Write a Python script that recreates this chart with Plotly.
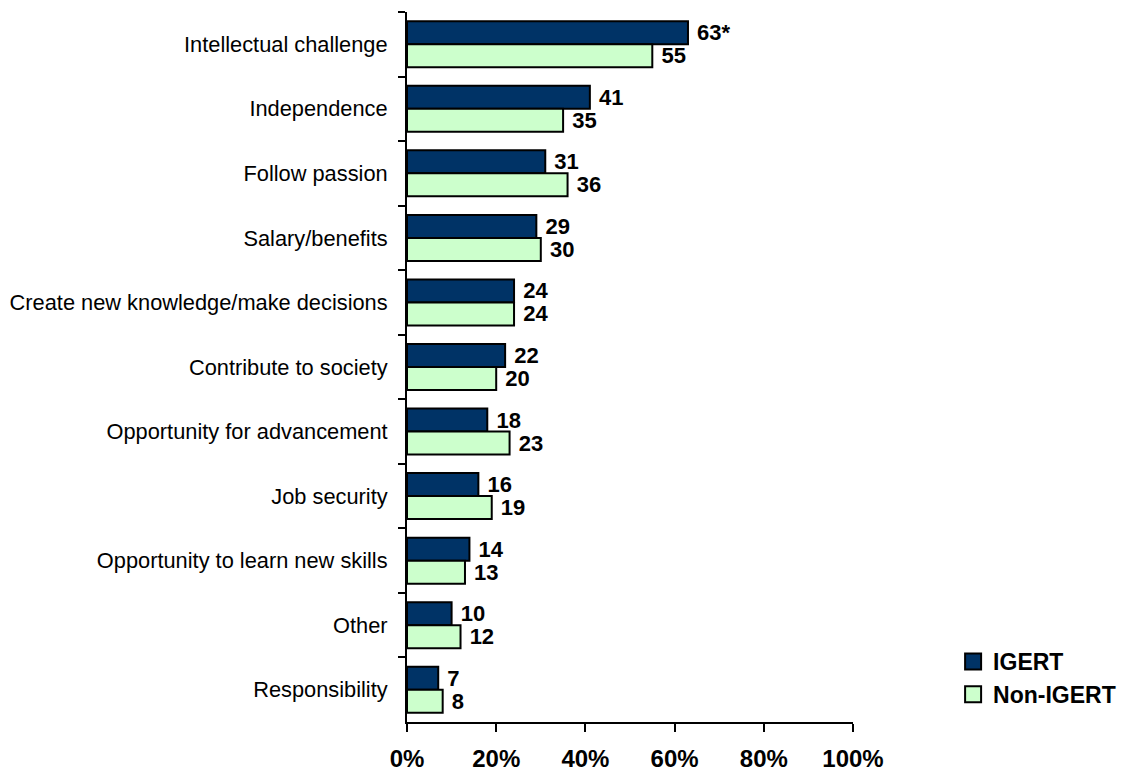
import plotly.graph_objects as go

categories = [
    "Intellectual challenge",
    "Independence",
    "Follow passion",
    "Salary/benefits",
    "Create new knowledge/make decisions",
    "Contribute to society",
    "Opportunity for advancement",
    "Job security",
    "Opportunity to learn new skills",
    "Other",
    "Responsibility",
]
igert = [63, 41, 31, 29, 24, 22, 18, 16, 14, 10, 7]
igert_labels = ["63*", "41", "31", "29", "24", "22", "18", "16", "14", "10", "7"]
non_igert = [55, 35, 36, 30, 24, 20, 23, 19, 13, 12, 8]
non_igert_labels = [str(v) for v in non_igert]
x_ticks = [0, 20, 40, 60, 80, 100]
x_tick_labels = ["0%", "20%", "40%", "60%", "80%", "100%"]

NAVY = "#003366"
GREEN = "#CCFFCC"
FONT = "Liberation Sans, Arial, sans-serif"

fig = go.Figure()
fig.add_trace(go.Bar(
    y=categories, x=igert, orientation="h", name="IGERT",
    marker=dict(color=NAVY, line=dict(color="black", width=2)),
    text=[" " + t for t in igert_labels], textposition="outside",
    constraintext="none",
    textfont=dict(family=FONT, size=22, color="black", weight="bold"),
    cliponaxis=False, showlegend=False,
))
fig.add_trace(go.Bar(
    y=categories, x=non_igert, orientation="h", name="Non-IGERT",
    marker=dict(color=GREEN, line=dict(color="black", width=2)),
    text=[" " + t for t in non_igert_labels], textposition="outside",
    constraintext="none",
    textfont=dict(family=FONT, size=22, color="black", weight="bold"),
    cliponaxis=False, showlegend=False,
))
# legend entries
for name, col in [("IGERT", NAVY), ("Non-IGERT", GREEN)]:
    fig.add_trace(go.Scatter(
        x=[None], y=[None], mode="markers", name=name,
        marker=dict(symbol="square", size=18, color=col,
                    line=dict(color="black", width=2)),
    ))

fig.update_layout(
    width=1133, height=774,
    margin=dict(l=407, r=276, t=12, b=52),
    paper_bgcolor="white", plot_bgcolor="white",
    barmode="group", bargap=0.287, bargroupgap=0,
    font=dict(family=FONT, color="black"),
    legend=dict(
        x=(958 - 407) / 450, y=(722 - 640) / 710, xanchor="left", yanchor="top",
        font=dict(family=FONT, size=23, color="black", weight="bold"),
        bgcolor="rgba(0,0,0,0)", itemwidth=30, tracegroupgap=0,
    ),
    xaxis=dict(
        range=[0, 100], tickmode="array", tickvals=x_ticks, ticktext=x_tick_labels,
        automargin=False,
        showgrid=False, zeroline=False,
        showline=True, linecolor="black", linewidth=2,
        ticks="outside", ticklen=8, tickwidth=2, tickcolor="black",
        tickfont=dict(family=FONT, size=24, color="black", weight="bold"),
        ticklabelstandoff=6,
    ),
    yaxis=dict(
        autorange="reversed", type="category", automargin=False,
        showgrid=False, zeroline=False,
        showline=True, linecolor="black", linewidth=2,
        ticks="outside", ticklen=7, tickwidth=2, tickcolor="black",
        tickson="boundaries",
        tickfont=dict(family=FONT, size=21.8, color="black"),
        ticklabelstandoff=13,
    ),
)

fig.write_html("out.html")
